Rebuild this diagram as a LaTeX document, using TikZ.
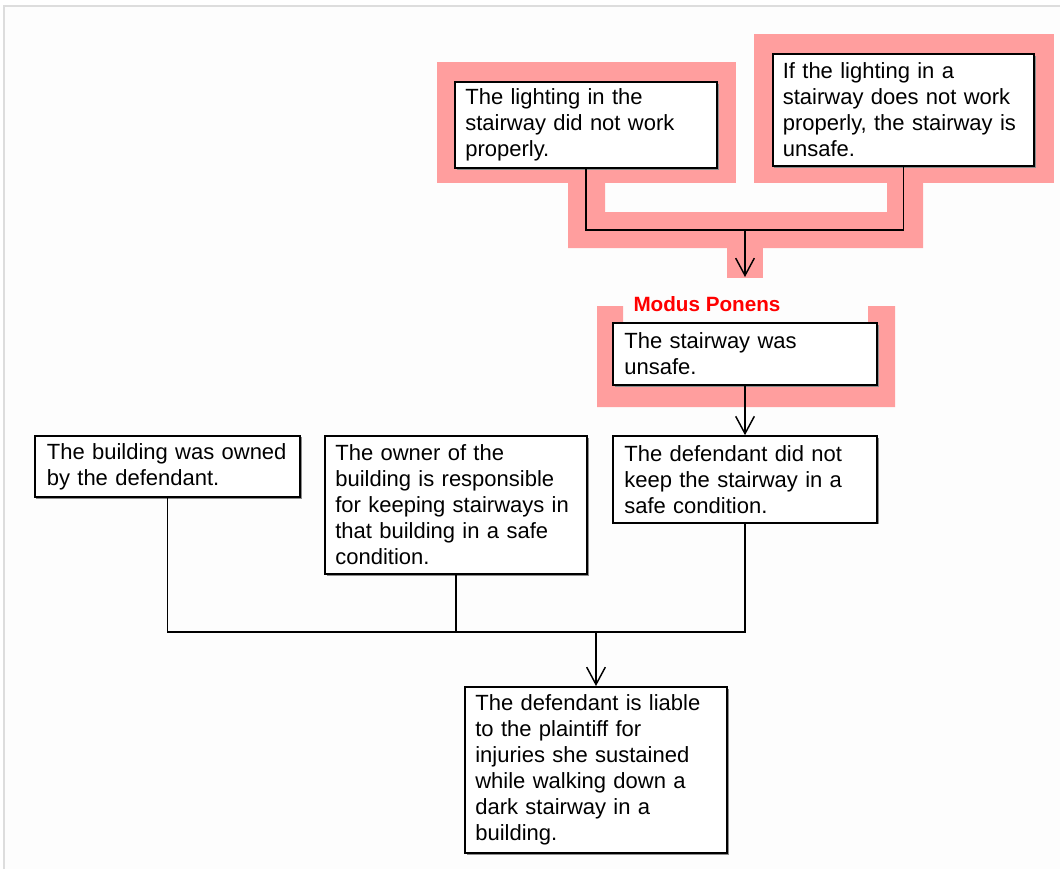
\documentclass[tikz,border=0pt]{standalone}
\usepackage{fontspec}
\setmainfont{Liberation Sans}
\usetikzlibrary{arrows.meta,shadows}
\definecolor{pinkhl}{RGB}{255,158,158}
\definecolor{framegray}{RGB}{221,221,221}
\definecolor{bgpaper}{RGB}{253,253,253}
\begin{document}
\begin{tikzpicture}[x=0.75pt,y=-0.75pt,
  claim/.style={draw=black, line width=1.5pt, fill=white, align=left,
    text width=181pt, inner xsep=7.5pt, inner ysep=4pt,
    font=\fontsize{16.5}{19.5}\selectfont,
    drop shadow={shadow xshift=1.2pt, shadow yshift=-1.2pt, fill=black!45, opacity=1}},
  link/.style={draw=black, line width=1.1pt},
  arr/.style={link, -{Straight Barb[length=13pt,width=14pt,line width=1.1pt]}},
  hl/.style={fill=pinkhl, draw=none},
  mplabel/.style={text=red, font=\fontsize{15.5}{18}\selectfont\bfseries, inner sep=0pt}]
\useasboundingbox (0,0) rectangle (1060,869);
\fill[white] (0,0) rectangle (1060,869);
\fill[bgpaper] (4,6) rectangle (1060,869);
\draw[framegray, line width=0.8pt] (4,869) -- (4,6) -- (1060,6);
% pink highlights
\fill[hl] (437,62) rectangle (736,183);
\fill[hl] (754,34) rectangle (1054,183);
\fill[hl] (568,183) -- (568,248) -- (923,248) -- (923,183) -- (887,183) -- (887,212) -- (605,212) -- (605,183) -- cycle;
\fill[hl] (727,247) rectangle (763,278);
\fill[hl] (597,306) -- (623,306) -- (623,323) -- (868,323) -- (868,306) -- (895,306) -- (895,407) -- (597,407) -- cycle;
% nodes
\node[claim, minimum width=196.5pt, minimum height=64.5pt] (b1) at (586,125)
  {The lighting in the\\ stairway did not work\\ properly.};
\node[claim, minimum width=196pt, minimum height=84pt] (b2) at (903.5,110)
  {If the lighting in a\\ stairway does not work\\ properly, the stairway is\\ unsafe.};
\node[claim, minimum width=198pt, minimum height=46.5pt] (b3) at (745,354)
  {The stairway was\\ unsafe.};
\node[mplabel] (mp) at (707,304) {Modus Ponens};
\node[claim, minimum width=198pt, minimum height=65pt] (b4) at (745,479.5)
  {The defendant did not\\ keep the stairway in a\\ safe condition.};
\node[claim, minimum width=199pt, minimum height=46pt] (b5) at (167.5,466.5)
  {The building was owned\\ by the defendant.};
\node[claim, minimum width=196.5pt, minimum height=103.5pt] (b6) at (456,505)
  {The owner of the\\ building is responsible\\ for keeping stairways in\\ that building in a safe\\ condition.};
\node[claim, minimum width=196.5pt, minimum height=124.5pt] (b7) at (596,770)
  {The defendant is liable\\ to the plaintiff for\\ injuries she sustained\\ while walking down a\\ dark stairway in a\\ building.};
% connectors
\coordinate (m1) at (745,230);
\coordinate (t1) at (745,277);
\draw[link] (b1.south) |- (m1) -| (b2.south);
\draw[arr] (m1) -- (t1);
\draw[arr] (b3.south) -- (b4.north);
\coordinate (m2) at (596,632);
\draw[link] (b5.south) |- (b4.south |- m2) -- (b4.south);
\draw[link] (b6.south) -- (b6.south |- m2);
\draw[arr] (m2) -- (b7.north);
\end{tikzpicture}
\end{document}
